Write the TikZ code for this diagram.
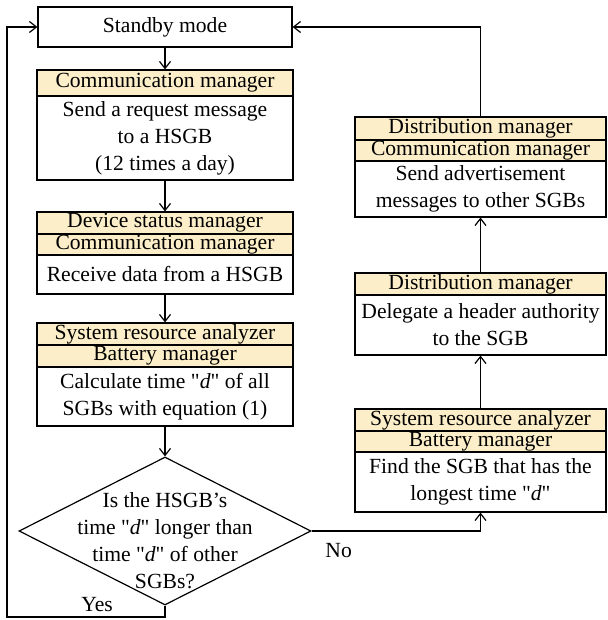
\documentclass[tikz,border=0pt]{standalone}
\usepackage{fontspec}
\setmainfont{Liberation Serif}[Ligatures=TeXOff]
\usetikzlibrary{shapes.geometric,arrows.meta}
\definecolor{headfill}{RGB}{252,238,200}

\begin{document}
\begin{tikzpicture}
  [x=0.5pt,y=-0.5pt,line width=0.6pt,>={Straight Barb[length=3.5pt,width=5.5pt]},
   every node/.style={inner sep=0pt,align=center,font=\fontsize{10.8}{13.5}\selectfont},
   lbox/.style={draw,minimum width=128pt,minimum height=#1},
   rbox/.style={draw,minimum width=125.5pt,minimum height=#1},
   lhead/.style={lbox=#1,fill=headfill},
   rhead/.style={rbox=#1,fill=headfill},
   decision/.style={draw,diamond,minimum width=146pt,minimum height=74pt}]
  \useasboundingbox (0,0) rectangle (608,620);

  % left column
  \node (stand) [draw,minimum width=127pt,minimum height=20pt] at (165,27) {Standby mode};
  \node (comm1) [lhead=13pt] at (165,83) {Communication manager};
  \node (send) [lbox=42pt] at (165,138) {Send a request message\\to a HSGB\\(12 times a day)};
  \node (dev) [lhead=11pt] at (165,223) {Device status manager};
  \node (comm2) [lhead=10.5pt] at (165,244.5) {Communication manager};
  \node (recv) [lbox=19.5pt] at (165,274.5) {Receive data from a HSGB};
  \node (sra1) [lhead=11pt] at (165,334) {System resource analyzer};
  \node (bat1) [lhead=11pt] at (165,356) {Battery manager};
  \node (calc) [lbox=29.5pt] at (165,396.5) {Calculate time "\textit{d}" of all\\SGBs with equation (1)};
  \node (dec) [decision,label={[yshift=-5pt]center:Is the HSGB’s\\time "\textit{d}" longer than\\time "\textit{d}" of other\\SGBs?}] at (165,531) {};

  % right column
  \node (dist1) [rhead=11.5pt] at (480.5,128.5) {Distribution manager};
  \node (comm3) [rhead=10.5pt] at (480.5,150.5) {Communication manager};
  \node (adv) [rbox=28pt] at (480.5,189) {Send advertisement\\messages to other SGBs};
  \node (dist2) [rhead=11pt] at (480.5,284) {Distribution manager};
  \node (deleg) [rbox=30pt] at (480.5,325) {Delegate a header authority\\to the SGB};
  \node (sra2) [rhead=11pt] at (480.5,420) {System resource analyzer};
  \node (bat2) [rhead=10.5pt] at (480.5,441.5) {Battery manager};
  \node (find) [rbox=30pt] at (480.5,482) {Find the SGB that has the\\longest time "\textit{d}"};

  \coordinate (loopL) at (7,617);

  \foreach \from/\to in {stand/comm1,send/dev,recv/sra1,calc/dec,sra2/deleg,dist2/adv}
    \draw[->] (\from) -- (\to);

  \draw[->] (dec.east) -| node[pos=0.08,below=6pt] {No} (find.south);
  \draw[->] (dec.south) |- node[pos=0.715,above=2.5pt] {Yes} (loopL) |- (stand.west);
  \draw[->] (dist1.north) |- (stand.east);

\end{tikzpicture}
\end{document}
